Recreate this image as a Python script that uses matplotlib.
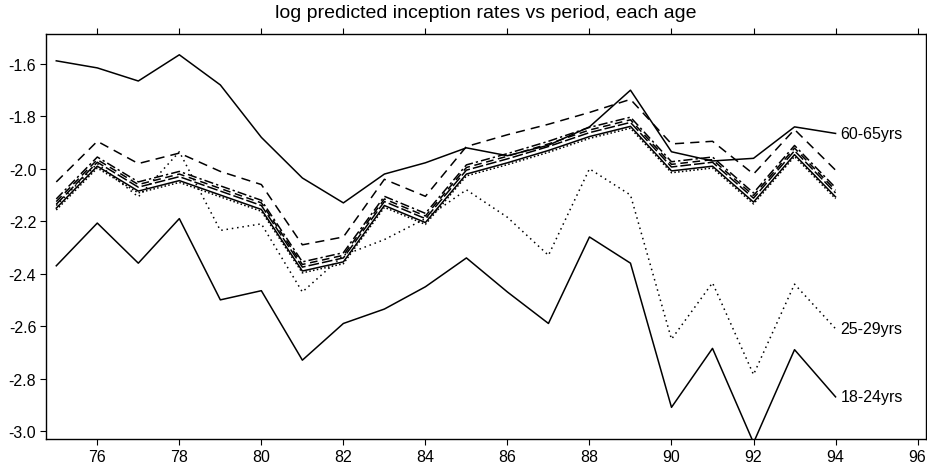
import numpy as np
import matplotlib
matplotlib.use("Agg")
from matplotlib import pyplot as plt

plt.rcParams["font.family"] = ["Liberation Sans", "DejaVu Sans"]

years = np.arange(75, 95)

# log predicted inception rates, one series per age band
rate_18_24 = [-2.37, -2.207, -2.36, -2.19, -2.50, -2.465, -2.73, -2.59, -2.535, -2.45,
              -2.34, -2.47, -2.59, -2.26, -2.36, -2.91, -2.685, -3.045, -2.69, -2.87]
rate_25_29 = [-2.14, -1.98, -2.107, -1.935, -2.235, -2.21, -2.47, -2.33, -2.27, -2.19,
              -2.08, -2.185, -2.33, -2.00, -2.10, -2.65, -2.435, -2.785, -2.44, -2.61]
rate_30_34 = [-2.05, -1.895, -1.98, -1.94, -2.01, -2.06, -2.29, -2.26, -2.04, -2.105,
              -1.915, -1.87, -1.83, -1.785, -1.735, -1.905, -1.895, -2.02, -1.85, -2.005]
rate_35_39 = [-2.115, -1.955, -2.05, -2.01, -2.065, -2.12, -2.355, -2.32, -2.105, -2.17,
              -1.985, -1.942, -1.895, -1.842, -1.803, -1.973, -1.955, -2.092, -1.911, -2.072]
rate_40_44 = [-2.125, -1.965, -2.06, -2.02, -2.075, -2.13, -2.365, -2.33, -2.115, -2.18,
              -1.995, -1.952, -1.905, -1.852, -1.813, -1.983, -1.965, -2.102, -1.921, -2.082]
rate_45_49 = [-2.135, -1.975, -2.07, -2.03, -2.085, -2.14, -2.375, -2.34, -2.125, -2.19,
              -2.005, -1.962, -1.915, -1.862, -1.823, -1.993, -1.975, -2.112, -1.931, -2.092]
rate_50_54 = [-2.15, -1.99, -2.085, -2.045, -2.10, -2.155, -2.39, -2.355, -2.14, -2.205,
              -2.02, -1.977, -1.93, -1.877, -1.838, -2.008, -1.99, -2.127, -1.946, -2.107]
rate_55_59 = [-2.157, -1.997, -2.092, -2.052, -2.107, -2.162, -2.397, -2.362, -2.147, -2.212,
              -2.027, -1.984, -1.937, -1.884, -1.845, -2.015, -1.997, -2.134, -1.953, -2.114]
rate_60_65 = [-1.588, -1.615, -1.665, -1.565, -1.68, -1.88, -2.035, -2.13, -2.02, -1.977,
              -1.92, -1.95, -1.91, -1.84, -1.70, -1.935, -1.97, -1.96, -1.84, -1.865]

series = [
    (rate_30_34, (0, (6, 4))),
    (rate_35_39, (0, (6, 2, 1.5, 2))),
    (rate_40_44, (0, (5, 3))),
    (rate_45_49, (0, (7, 2))),
    (rate_50_54, "-"),
    (rate_55_59, (0, (1, 1.5))),
    (rate_25_29, (0, (1, 2.5))),
    (rate_18_24, "-"),
    (rate_60_65, "-"),
]

end_labels = [(rate_60_65, "60-65yrs"), (rate_25_29, "25-29yrs"), (rate_18_24, "18-24yrs")]

fig = plt.figure(figsize=(9.28, 4.77), dpi=100)
ax = fig.add_axes([0.0496, 0.078, 0.948, 0.849])

for vals, ls in series:
    ax.plot(years, vals, color="black", lw=1.1, linestyle=ls)

for vals, name in end_labels:
    ax.text(94.12, vals[-1], name, fontsize=11.5, va="center", ha="left")

ax.set_xlim(74.75, 96.2)
ax.set_ylim(-3.03, -1.485)
ax.set_xticks(np.arange(76, 97, 2))
ax.set_yticks(np.arange(-3.0, -1.55, 0.2))
ax.set_yticklabels([f"{v:.1f}" for v in np.arange(-3.0, -1.55, 0.2)])
ax.tick_params(axis="both", direction="out", length=4, width=0.8, labelsize=11.5,
               top=True, right=True)
ax.tick_params(axis="x", pad=3)
ax.tick_params(axis="y", pad=3)
for side in ax.spines.values():
    side.set_linewidth(1.0)

ax.set_title("log predicted inception rates vs period, each age", fontsize=14, pad=12)

fig.savefig("out.png", dpi=100)
plt.close()
